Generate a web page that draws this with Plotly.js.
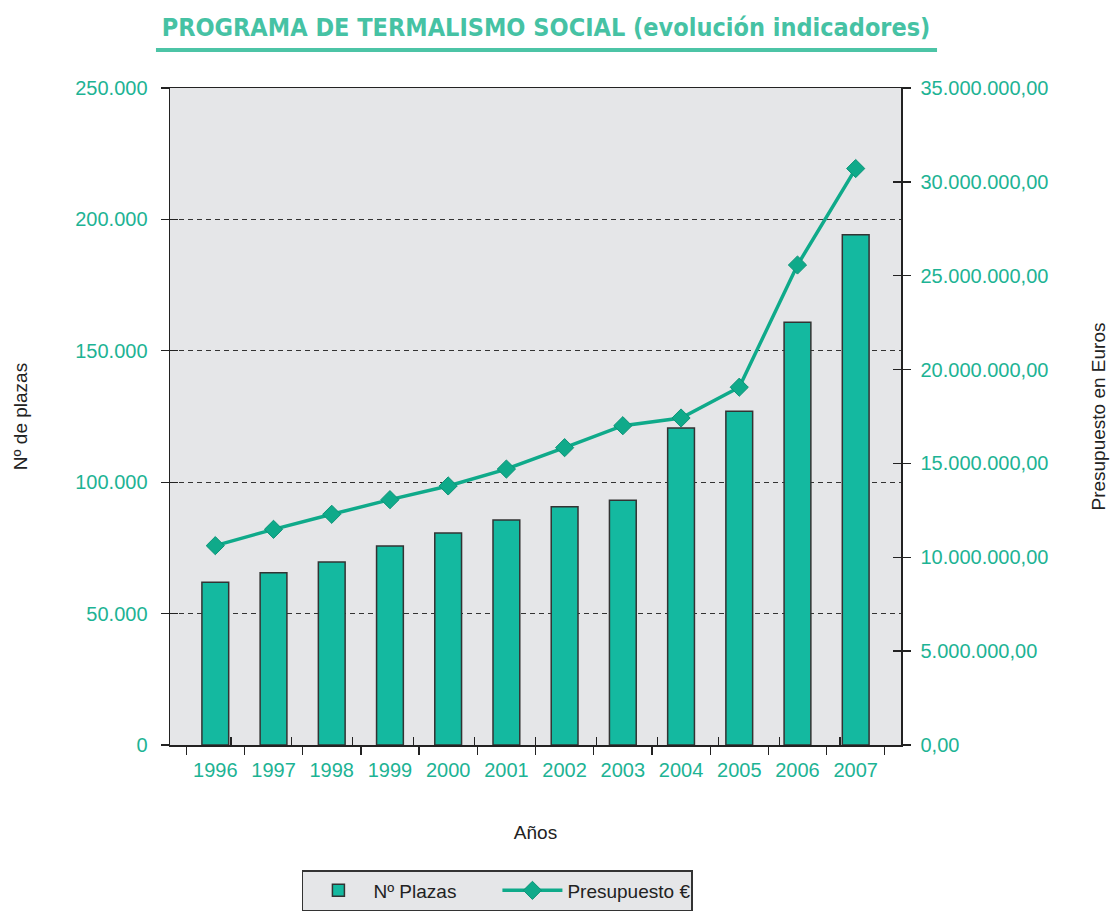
<!DOCTYPE html>
<html>
<head>
<meta charset="utf-8">
<script src="https://cdn.plot.ly/plotly-3.0.1.min.js"></script>
<style>
html,body{margin:0;padding:0;background:#fff;}
#chart{width:1110px;height:911px;}
</style>
</head>
<body>
<div id="chart"></div>
<script>
const years = ['1996','1997','1998','1999','2000','2001','2002','2003','2004','2005','2006','2007'];
const plazas = [61900, 65500, 69600, 75700, 80700, 85600, 90700, 93100, 120600, 127000, 160900, 194200];
const presupuesto = [10620000, 11490000, 12290000, 13070000, 13800000, 14700000, 15840000, 17010000, 17420000, 19060000, 25570000, 30710000];

const teal = '#14B9A0';
const lineTeal = '#0FAA8A';
const textTeal = '#1DB394';
const titleTeal = '#46C2A4';
const tickFont = {family: 'Liberation Sans, Arial, sans-serif', size: 20, color: textTeal};
const axisTitleFont = {family: 'Liberation Sans, Arial, sans-serif', size: 19, color: '#222'};
const tickStyle = {ticklen: 8, tickwidth: 1.3, tickcolor: '#222'};

const traces = [
  {
    type: 'bar', name: 'Nº Plazas', x: years, y: plazas,
    marker: {color: teal, line: {color: '#333', width: 1.5}},
    width: 0.46, yaxis: 'y'
  },
  {
    type: 'scatter', mode: 'lines+markers', name: 'Presupuesto €', x: years, y: presupuesto,
    line: {color: lineTeal, width: 3.5},
    marker: {symbol: 'diamond', size: 14, color: lineTeal, line: {color: '#0C9478', width: 1}},
    yaxis: 'y2'
  }
];

const layout = {
  width: 1110, height: 911,
  margin: {l: 170, r: 209, t: 88, b: 166},
  paper_bgcolor: '#ffffff',
  plot_bgcolor: '#E5E6E8',
  separators: ',.',
  showlegend: true,
  title: {
    text: '<b>PROGRAMA DE TERMALISMO SOCIAL (evolución indicadores)</b>',
    font: {family: 'DejaVu Sans Condensed, Liberation Sans Narrow, sans-serif', size: 25, color: titleTeal},
    x: 0.5144, xanchor: 'center', xref: 'paper',
    y: 0.970, yanchor: 'middle', yref: 'container'
  },
  xaxis: Object.assign({
    type: 'category',
    tickson: 'boundaries',
    ticks: 'outside',
    showline: true, linecolor: '#222', linewidth: 1.5, mirror: true,
    showgrid: false,
    tickfont: tickFont,
    ticklabelstandoff: 6,
    title: {text: 'Años', font: axisTitleFont, standoff: 46}
  }, tickStyle),
  xaxis2: Object.assign({
    overlaying: 'x', anchor: 'y', side: 'bottom',
    range: [-0.5, 11.5], tick0: -0.5, dtick: 1,
    ticks: 'inside', showticklabels: false, showgrid: false, zeroline: false, showline: false
  }, tickStyle),
  yaxis: Object.assign({
    range: [0, 250000],
    tick0: 0, dtick: 50000,
    tickformat: ',d',
    ticks: 'outside',
    showline: true, linecolor: '#222', linewidth: 1.5,
    showgrid: true, gridcolor: '#333', gridwidth: 1, griddash: '5px,4px',
    zeroline: false,
    tickfont: tickFont,
    ticklabelstandoff: 9,
    title: {text: 'Nº de plazas', font: axisTitleFont, standoff: 42}
  }, tickStyle),
  yaxis2: Object.assign({
    overlaying: 'y', side: 'right', anchor: 'x',
    range: [0, 35000000],
    tick0: 0, dtick: 5000000,
    tickformat: ',.2f',
    ticks: 'outside',
    showline: true, linecolor: '#222', linewidth: 1.5,
    showgrid: false, zeroline: false,
    tickfont: tickFont,
    ticklabelstandoff: 6,
    title: {text: 'Presupuesto en Euros', font: axisTitleFont, standoff: 44}
  }, tickStyle),
  yaxis3: Object.assign({
    overlaying: 'y', side: 'left', anchor: 'x',
    range: [0, 250000], tick0: 0, dtick: 50000,
    ticks: 'inside', showticklabels: false, showgrid: false, zeroline: false, showline: false
  }, tickStyle),
  yaxis4: Object.assign({
    overlaying: 'y', side: 'right', anchor: 'x',
    range: [0, 35000000], tick0: 0, dtick: 5000000,
    ticks: 'inside', showticklabels: false, showgrid: false, zeroline: false, showline: false
  }, tickStyle),
  legend: {
    orientation: 'h',
    xref: 'container', yref: 'container',
    x: 0.272, xanchor: 'left',
    y: 0.045, yanchor: 'top',
    bgcolor: '#E5E6E8', bordercolor: '#333', borderwidth: 1.5,
    font: {family: 'Liberation Sans, Arial, sans-serif', size: 19, color: '#222'},
    itemwidth: 60,
    entrywidth: 119
  },
  shapes: [
    {type: 'line', xref: 'paper', yref: 'paper', x0: -0.0192, x1: 1.0493, y0: 1.058, y1: 1.058,
     line: {color: '#4CC4A6', width: 4}}
  ]
};

traces.push({type: 'scatter', x: [], y: [], xaxis: 'x2', yaxis: 'y3', showlegend: false, hoverinfo: 'skip'});
traces.push({type: 'scatter', x: [], y: [], xaxis: 'x2', yaxis: 'y4', showlegend: false, hoverinfo: 'skip'});

Plotly.newPlot('chart', traces, layout, {displayModeBar: false, staticPlot: true});
</script>
</body>
</html>
